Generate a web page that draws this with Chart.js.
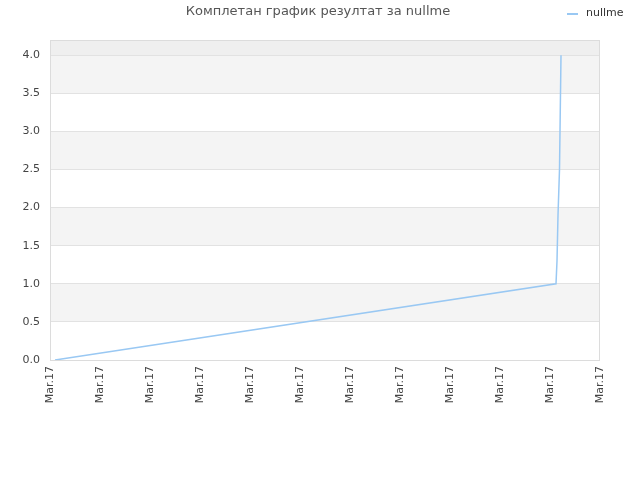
<!DOCTYPE html>
<html>
<head>
<meta charset="utf-8">
<script src="https://cdn.jsdelivr.net/npm/chart.js@4/dist/chart.umd.min.js"></script>
<style>
  html, body { margin: 0; padding: 0; background: #fff; }
  #wrap { width: 640px; height: 480px; }
</style>
</head>
<body>
<div id="wrap"><canvas id="chart" width="640" height="480"></canvas></div>
<script>
const chartTitle = "Комплетан график резултат за nullme";
const seriesName = "nullme";
// x position in tick units (0..11), y = score
const pointsX = [0.1, 10.12, 10.14, 10.16, 10.19, 10.21, 10.22];
const pointsY = [0.0, 1.0, 1.3, 1.9, 2.5, 3.5, 4.0];
const tickLabel = "Mar.17";
const lineColor = "#99c8f3";

const fontFamily = "'DejaVu Sans', sans-serif";

const bandsPlugin = {
  id: "bands",
  beforeDraw(chart) {
    const { ctx, chartArea: a, scales: { y } } = chart;
    ctx.save();
    for (let v = 0; v < 4; v += 0.5) {
      const top = y.getPixelForValue(v + 0.5);
      const bottom = y.getPixelForValue(v);
      ctx.fillStyle = (Math.round(v * 2) % 2 === 1) ? "#f4f4f4" : "#ffffff";
      ctx.fillRect(a.left, top, a.right - a.left, bottom - top);
    }
    const t4 = y.getPixelForValue(4);
    ctx.fillStyle = "#efefef";
    ctx.fillRect(a.left, a.top, a.right - a.left, t4 - a.top);
    ctx.restore();
  },
  afterDraw(chart) {
    const { ctx, chartArea: a } = chart;
    ctx.save();
    ctx.strokeStyle = "#dcdcdc";
    ctx.lineWidth = 1;
    ctx.strokeRect(a.left + 0.5, a.top + 0.5, a.right - a.left - 1, a.bottom - a.top);
    // title
    ctx.fillStyle = "#555";
    ctx.font = "13px " + fontFamily;
    ctx.textAlign = "center";
    ctx.textBaseline = "middle";
    ctx.fillText(chartTitle, 318, 12);
    // legend
    ctx.strokeStyle = lineColor;
    ctx.lineWidth = 2;
    ctx.beginPath();
    ctx.moveTo(567, 14);
    ctx.lineTo(578, 14);
    ctx.stroke();
    ctx.fillStyle = "#333";
    ctx.font = "11px " + fontFamily;
    ctx.textAlign = "left";
    ctx.fillText(chart.data.datasets[0].label, 586, 13);
    ctx.restore();
  }
};

new Chart(document.getElementById("chart"), {
  type: "line",
  data: {
    datasets: [{
      label: seriesName,
      data: pointsX.map((x, i) => ({ x: x, y: pointsY[i] })),
      borderColor: lineColor,
      borderWidth: 1.5,
      pointRadius: 0,
      fill: false,
      tension: 0
    }]
  },
  options: {
    responsive: false,
    animation: false,
    layout: { padding: { top: 40, right: 40, left: 0, bottom: 0 } },
    plugins: {
      legend: { display: false },
      title: { display: false },
      tooltip: { enabled: false }
    },
    scales: {
      x: {
        type: "linear",
        min: 0,
        max: 11,
        afterFit: (s) => { s.height = 120; },
        grid: { display: false, drawTicks: false },
        border: { display: false },
        ticks: {
          stepSize: 1,
          autoSkip: false,
          maxRotation: 90,
          minRotation: 90,
          padding: 6,
          color: "#444",
          font: { family: fontFamily, size: 11 },
          callback: () => tickLabel
        }
      },
      y: {
        min: 0,
        max: 4.2,
        afterFit: (s) => { s.width = 50; },
        grid: { color: "#e2e2e2", drawTicks: false },
        border: { display: false },
        afterBuildTicks: (s) => {
          s.ticks = [0, 0.5, 1, 1.5, 2, 2.5, 3, 3.5, 4].map(v => ({ value: v }));
        },
        ticks: {
          padding: 10,
          color: "#444",
          font: { family: fontFamily, size: 11 },
          callback: (v) => Number(v).toFixed(1)
        }
      }
    }
  },
  plugins: [bandsPlugin]
});
</script>
</body>
</html>
